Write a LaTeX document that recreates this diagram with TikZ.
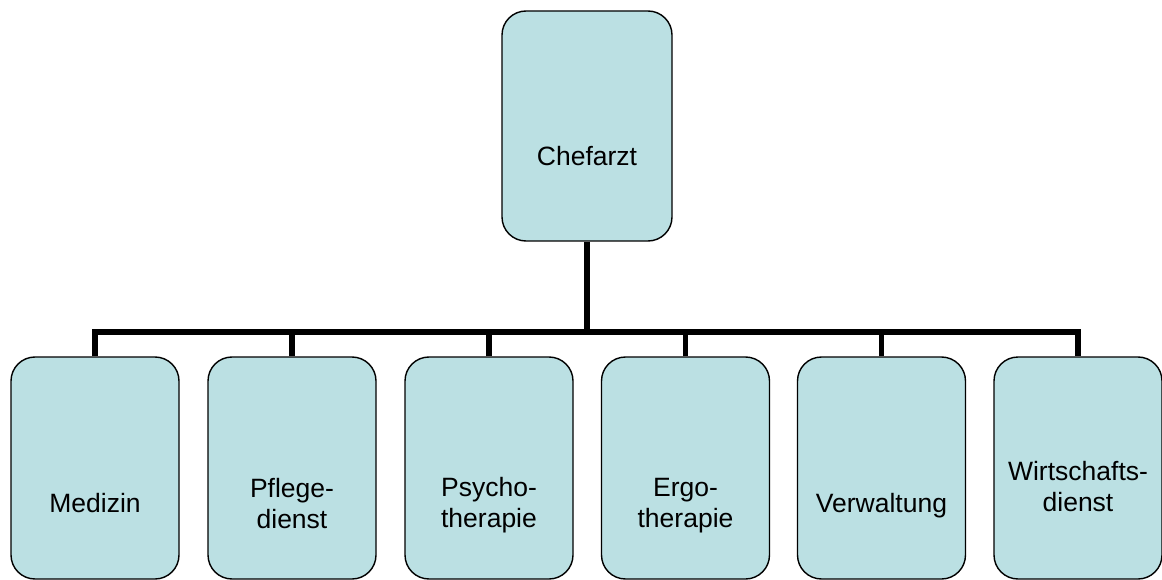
\documentclass[tikz,border=0pt]{standalone}
\usepackage{fontspec}
\setmainfont{Liberation Sans}
\usetikzlibrary{backgrounds}
\definecolor{boxfill}{RGB}{187,224,227}
\tikzset{
  orgbox/.style={draw=black, line width=1.4pt, fill=boxfill, rounded corners=24pt, inner sep=0pt},
  topbox/.style={orgbox, minimum width=170pt, minimum height=230pt},
  subbox/.style={orgbox, minimum width=168pt, minimum height=222pt},
  lbl/.style={font=\fontsize{26.5pt}{31pt}\selectfont, align=center, anchor=base, inner sep=0pt},
  conn/.style={draw=black, line width=5.5pt, line join=miter}
}
\begin{document}
\begin{tikzpicture}[x=1pt,y=-1pt]
\useasboundingbox (0,0) rectangle (1162,580);
\node[topbox] (chef) at (587,126) {};
\node[subbox] (med) at (95,468) {};
\node[subbox] (pfl) at (292,468) {};
\node[subbox] (psy) at (489,468) {};
\node[subbox] (erg) at (685.5,468) {};
\node[subbox] (ver) at (881.5,468) {};
\node[subbox] (wir) at (1078,468) {};
\node[lbl] (tchef) at (587,166) {Chefarzt};
\node[lbl] (tmed) at (95,512) {Medizin};
\node[lbl] (tpfl) at (292,528) {Pflege-\\dienst};
\node[lbl] (tpsy) at (489,527) {Psycho-\\therapie};
\node[lbl] (terg) at (685.5,527) {Ergo-\\therapie};
\node[lbl] (tver) at (881.5,512) {Verwaltung};
\node[lbl] (twir) at (1078,511) {Wirtschafts-\\dienst};
\coordinate (bus) at (587,332);
\begin{pgfonlayer}{background}
\draw[conn] (chef.south) -- (bus);
\draw[conn] (med.north) -- (med.north |- bus) -- (wir.north |- bus) -- (wir.north);
\draw[conn] (pfl.north) -- (pfl.north |- bus);
\draw[conn] (psy.north) -- (psy.north |- bus);
\draw[conn] (erg.north) -- (erg.north |- bus);
\draw[conn] (ver.north) -- (ver.north |- bus);
\end{pgfonlayer}
\end{tikzpicture}
\end{document}
